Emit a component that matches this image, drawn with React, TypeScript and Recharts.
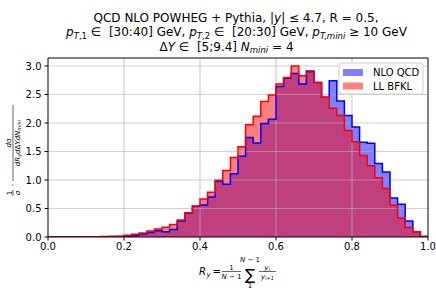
import React from 'react';
import { ComposedChart, Area, Line, XAxis, YAxis, ReferenceLine } from 'recharts';

// histogram bins: 50 bins of width 0.02 on [0, 1]
const binWidth = 0.02;

// NLO QCD (POWHEG + Pythia)
const nloQcd = [
    0, 0, 0, 0, 0,
    0.003, 0.004, 0.006, 0.008, 0.01,
    0.015, 0.03, 0.05, 0.08, 0.11,
    0.09, 0.13, 0.275, 0.415, 0.54,
    0.56, 0.7, 0.98, 0.925, 1.11,
    1.415, 1.745, 1.65, 1.99, 2.065,
    2.64, 2.785, 2.87, 2.685, 2.91,
    2.71, 2.45, 2.74, 2.385, 2.13,
    1.93, 1.66, 1.645, 1.29, 1.14,
    0.685, 0.574, 0.28, 0.09, 0.01,
];

// LL BFKL
const llBfkl = [
    0, 0, 0, 0, 0,
    0.003, 0.005, 0.007, 0.01, 0.015,
    0.03, 0.05, 0.07, 0.105, 0.14,
    0.17, 0.22, 0.3, 0.425, 0.545,
    0.665, 0.785, 0.995, 1.165, 1.395,
    1.585, 1.97, 2.12, 2.375, 2.49,
    2.685, 2.8, 3.0, 2.83, 2.89,
    2.71, 2.45, 2.26, 2.13, 1.87,
    1.67, 1.43, 1.25, 1.04, 0.85,
    0.556, 0.335, 0.165, 0.09, 0.01,
];

const xTicks = [0, 0.2, 0.4, 0.6, 0.8, 1.0];
const yTicks = [0, 0.5, 1.0, 1.5, 2.0, 2.5, 3.0];
const yMax = 3.14;

const data = nloQcd.map((v, i) => ({
    x: Number((i * binWidth).toFixed(2)),
    nlo: v,
    bfkl: llBfkl[i],
}));
data.push({ x: 1, nlo: 0, bfkl: 0 });

const gridColor = '#b0b0b0';
const font = 'DejaVu Sans';

function Labels() {
    return (
        <svg
            width={436}
            height={291}
            style={{ position: 'absolute', left: 0, top: 0, pointerEvents: 'none', whiteSpace: 'pre' }}
            fontFamily={font}
            fill="#000"
        >
            {/* title */}
            <text x={236} y={21.5} fontSize={12} textAnchor="middle">
                QCD NLO POWHEG + Pythia, |<tspan fontStyle="italic">y</tspan>| ≤ 4.7, R = 0.5,
            </text>
            <text x={236.5} y={36} fontSize={12} textAnchor="middle">
                <tspan fontStyle="italic">p</tspan>
                <tspan fontSize={8.5} dy={2.5} fontStyle="italic">T</tspan>
                <tspan fontSize={8.5}>,1</tspan>
                <tspan dy={-2.5}>{' ∈\u00a0 [30:40] GeV, '}</tspan>
                <tspan fontStyle="italic">p</tspan>
                <tspan fontSize={8.5} dy={2.5} fontStyle="italic">T</tspan>
                <tspan fontSize={8.5}>,2</tspan>
                <tspan dy={-2.5}>{' ∈\u00a0 [20:30] GeV, '}</tspan>
                <tspan fontStyle="italic">p</tspan>
                <tspan fontSize={8.5} dy={2.5} fontStyle="italic">T,mini</tspan>
                <tspan dy={-2.5}>{' ≥ 10 GeV'}</tspan>
            </text>
            <text x={226.5} y={50.5} fontSize={12} textAnchor="middle">
                Δ<tspan fontStyle="italic">Y</tspan>{' ∈\u00a0 [5;9.4] '}<tspan fontStyle="italic">N</tspan>
                <tspan fontSize={8.5} dy={2.5} fontStyle="italic">mini</tspan>
                <tspan dy={-2.5}>{' = 4'}</tspan>
            </text>

            {/* legend */}
            <rect x={339} y={63} width={84} height={31} rx={2.5} fill="#fff" fillOpacity={0.8} stroke="#cccccc" strokeWidth={1} />
            <rect x={343} y={69} width={20} height={7} fill="#0000ff" fillOpacity={0.5} />
            <rect x={343} y={82.5} width={20} height={7} fill="#ff0000" fillOpacity={0.5} />
            <text x={373} y={76} fontSize={10}>NLO QCD</text>
            <text x={373} y={89.5} fontSize={10}>LL BFKL</text>

            {/* y label */}
            <g transform="translate(13,148) rotate(-90)" fontSize={7}>
                <text x={-45} y={-1.5} textAnchor="middle">1</text>
                <line x1={-48} x2={-42} y1={0} y2={0} stroke="#000" strokeWidth={0.6} />
                <text x={-45} y={6.5} textAnchor="middle" fontStyle="italic">σ</text>
                <text x={-37} y={2.5} fontSize={9} textAnchor="middle">·</text>
                <text x={5} y={-1.8} textAnchor="middle"><tspan fontStyle="italic">d</tspan>σ</text>
                <line x1={-33} x2={43} y1={0} y2={0} stroke="#000" strokeWidth={0.6} />
                <text x={5} y={6.5} textAnchor="middle">
                    <tspan fontStyle="italic">dR</tspan>
                    <tspan fontSize={5} dy={1.5} fontStyle="italic">y</tspan>
                    <tspan dy={-1.5} fontStyle="italic">d</tspan>Δ<tspan fontStyle="italic">YdN</tspan>
                    <tspan fontSize={5} dy={1.5} fontStyle="italic">mini</tspan>
                </text>
            </g>

            {/* x label */}
            <g fontSize={10}>
                <text x={199} y={274.5} fontStyle="italic">R</text>
                <text x={206.5} y={277} fontSize={7} fontStyle="italic">y</text>
                <text x={212.5} y={274.5}>=</text>
                <text x={231.5} y={269.5} fontSize={7} textAnchor="middle">1</text>
                <line x1={222} x2={241} y1={271.5} y2={271.5} stroke="#000" strokeWidth={0.6} />
                <text x={231.5} y={278.5} fontSize={7} textAnchor="middle"><tspan fontStyle="italic">N</tspan>{' − 1'}</text>
                <text x={250} y={279.5} fontSize={15} textAnchor="middle">∑</text>
                <text x={250} y={261.5} fontSize={7} textAnchor="middle"><tspan fontStyle="italic">N</tspan>{' − 1'}</text>
                <text x={250} y={288} fontSize={7} textAnchor="middle">1</text>
                <text x={267} y={269.5} fontSize={7} textAnchor="middle" fontStyle="italic">
                    y<tspan fontSize={5} dy={1}>i</tspan>
                </text>
                <line x1={259} x2={276} y1={271.5} y2={271.5} stroke="#000" strokeWidth={0.6} />
                <text x={267.5} y={278.5} fontSize={7} textAnchor="middle" fontStyle="italic">
                    y<tspan fontSize={5} dy={1}>i+1</tspan>
                </text>
            </g>
        </svg>
    );
}

export default function App() {
    const tickStyle = { fill: '#000', fontSize: 10, fontFamily: font };
    return (
        <div style={{ position: 'absolute', left: 0, top: 0, width: 436, height: 291, background: '#fff' }}>
            <ComposedChart
                width={436}
                height={291}
                data={data}
                margin={{ top: 58, right: 8, bottom: 34, left: 0 }}
            >
                <XAxis
                    dataKey="x"
                    type="number"
                    domain={[0, 1]}
                    ticks={xTicks}
                    tickFormatter={(v: number) => v.toFixed(1)}
                    tick={tickStyle}
                    tickSize={3.5}
                    tickMargin={2}
                    height={20}
                    axisLine={{ stroke: '#000', strokeWidth: 1 }}
                    tickLine={{ stroke: '#000', strokeWidth: 1 }}
                    allowDataOverflow
                />
                <YAxis
                    type="number"
                    domain={[0, yMax]}
                    ticks={yTicks}
                    tickFormatter={(v: number) => v.toFixed(1)}
                    tick={tickStyle}
                    tickSize={3.5}
                    tickMargin={3}
                    width={48}
                    axisLine={{ stroke: '#000', strokeWidth: 1 }}
                    tickLine={{ stroke: '#000', strokeWidth: 1 }}
                    allowDataOverflow
                />
                <Area
                    type="stepAfter"
                    dataKey="nlo"
                    fill="#0000ff"
                    fillOpacity={0.5}
                    stroke="none"
                    isAnimationActive={false}
                />
                <Area
                    type="stepAfter"
                    dataKey="bfkl"
                    fill="#ff0000"
                    fillOpacity={0.5}
                    stroke="none"
                    isAnimationActive={false}
                />
                {xTicks.slice(1, -1).map((t) => (
                    <ReferenceLine key={`gx-${t}`} x={t} stroke={gridColor} strokeOpacity={0.6} strokeWidth={1.2} />
                ))}
                {yTicks.slice(1).map((t) => (
                    <ReferenceLine key={`gy-${t}`} y={t} stroke={gridColor} strokeOpacity={0.6} strokeWidth={1.2} />
                ))}
                <Line
                    type="stepAfter"
                    dataKey="nlo"
                    stroke="#0000ff"
                    strokeWidth={1.5}
                    dot={false}
                    activeDot={false}
                    isAnimationActive={false}
                />
                <Line
                    type="stepAfter"
                    dataKey="bfkl"
                    stroke="#ff0000"
                    strokeWidth={1.5}
                    dot={false}
                    activeDot={false}
                    isAnimationActive={false}
                />
                <ReferenceLine y={yMax} stroke="#000" strokeWidth={1} />
                <ReferenceLine x={1} stroke="#000" strokeWidth={1} />
            </ComposedChart>
            <Labels />
        </div>
    );
}
